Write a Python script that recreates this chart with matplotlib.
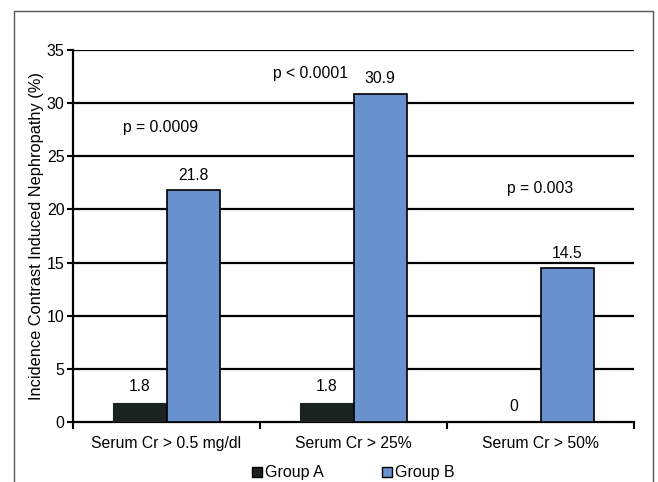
import numpy as np
import matplotlib
matplotlib.use("Agg")
import matplotlib.pyplot as plt
import matplotlib.patches as mpatches

categories = ['Serum Cr > 0.5 mg/dl', 'Serum Cr > 25%', 'Serum Cr > 50%']
group_a = [1.8, 1.8, 0]
group_b = [21.8, 30.9, 14.5]
p_values = ['p = 0.0009', 'p < 0.0001', 'p = 0.003']
p_heights = [27.7, 32.8, 22.0]
p_offsets = [-0.03, -0.23, 0.0]
yticks = [0, 5, 10, 15, 20, 25, 30, 35]

plt.rcParams['font.family'] = ['Liberation Sans', 'DejaVu Sans']

color_a = '#1b2320'
color_b = '#6891cd'
fs = 11.3

fig = plt.figure(figsize=(6.58, 4.82), dpi=100)
ax = fig.add_axes([73 / 658, 1 - 422 / 482, (634 - 73) / 658, (422 - 50) / 482])

x = np.arange(len(categories)) + 0.5
w = 0.285

# gridlines drawn as thick black lines
for yv in yticks[1:]:
    ax.axhline(yv, color='black', lw=1.6, zorder=1)

ax.bar(x - w / 2, group_a, w, color=color_a, edgecolor=color_a, lw=0.8, zorder=3)
ax.bar(x + w / 2, group_b, w, color=color_b, edgecolor='black', lw=1.2, zorder=3)

for xi, va, vb in zip(x, group_a, group_b):
    ax.text(xi - w / 2, va + 1.5, f'{va:g}', ha='center', va='center', fontsize=fs)
    ax.text(xi + w / 2, vb + 1.4, f'{vb:g}', ha='center', va='center', fontsize=fs)

for xi, txt, h, off in zip(x, p_values, p_heights, p_offsets):
    ax.text(xi + off, h, txt, ha='center', va='center', fontsize=fs)

ax.set_xlim(0, 3)
ax.set_ylim(0, 35)
ax.set_yticks(yticks)
ax.set_yticklabels([str(t) for t in yticks], fontsize=11.5)
ax.set_xticks([0, 1, 2, 3])
ax.set_xticklabels([])
ax.set_xticks(x, minor=True)
ax.set_xticklabels(categories, minor=True, fontsize=fs)
ax.tick_params(axis='x', which='minor', length=0, pad=10)
ax.tick_params(axis='x', which='major', length=5, width=1.5, direction='out')
ax.tick_params(axis='y', length=4, width=1.5, pad=2)

for s in ['top', 'right']:
    ax.spines[s].set_visible(False)
ax.spines['left'].set_linewidth(1.6)
ax.spines['bottom'].set_linewidth(1.6)

ax.set_ylabel('Incidence Contrast Induced Nephropathy (%)', fontsize=11.8, labelpad=2)

handles = [mpatches.Patch(facecolor=color_a, edgecolor='black', label='Group A'),
           mpatches.Patch(facecolor=color_b, edgecolor='black', label='Group B')]
fig.legend(handles=handles, loc='center', bbox_to_anchor=(0.537, 1 - 473 / 482), ncol=2,
           frameon=False, fontsize=11.5, handlelength=0.65, handleheight=0.65,
           handletextpad=0.2, columnspacing=3.6, borderpad=0.1)

# outer frame of the figure panel
frame = mpatches.Rectangle((14 / 658, -0.05), (653 - 14) / 658, 1 - 11 / 482 + 0.05,
                           transform=fig.transFigure, fill=False, edgecolor='#555555', lw=1)
fig.patches.append(frame)

fig.savefig('out.png', dpi=100)
